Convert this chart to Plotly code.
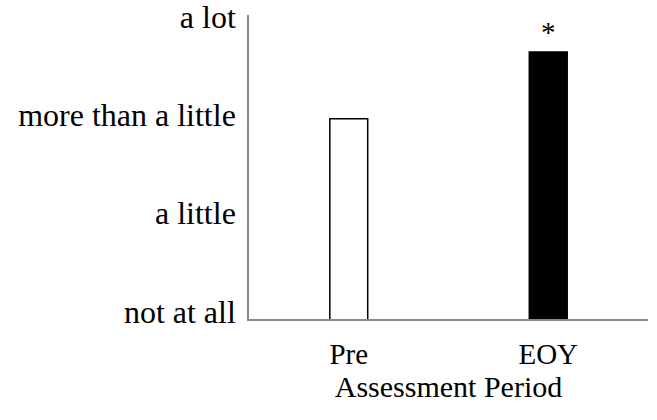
import plotly.graph_objects as go

categories = ["Pre", "EOY"]
values = [2.96, 3.64]
bar_fills = ["white", "black"]
tick_values = [1, 2, 3, 4]
tick_labels = ["not at all", "a little", "more than a little", "a lot"]
significance = ["", "*"]
x_title = "Assessment Period"

FONT = "Liberation Serif, Times New Roman, serif"

fig = go.Figure()
fig.add_trace(go.Bar(
    x=categories, y=values, width=0.19,
    marker=dict(color=bar_fills, line=dict(color="black", width=1.5)),
    hoverinfo="skip",
))

for c, v, s in zip(categories, values, significance):
    if s:
        fig.add_annotation(x=c, y=v, text=s, showarrow=False, yanchor="bottom",
                           yshift=2, font=dict(family=FONT, size=29, color="black"))

fig.update_layout(
    width=657, height=420,
    margin=dict(l=249, r=9, t=15, b=101),
    paper_bgcolor="white", plot_bgcolor="white",
    showlegend=False,
    font=dict(family=FONT, color="black"),
    xaxis=dict(
        range=[-0.5, 1.5], showline=True, linecolor="#8a8a8a", linewidth=1.5,
        showgrid=False, zeroline=False, ticks="", automargin=False,
        tickfont=dict(family=FONT, size=29, color="black"),
        ticklabelstandoff=8,
        title=dict(text=x_title, font=dict(family=FONT, size=30, color="black"), standoff=4),
    ),
    yaxis=dict(
        range=[0.924, 4.016], showline=True, linecolor="#8a8a8a", linewidth=1.5,
        showgrid=False, zeroline=False, ticks="", automargin=False,
        tickvals=tick_values, ticktext=tick_labels,
        tickfont=dict(family=FONT, size=32, color="black"),
        ticklabelstandoff=5, ticklabeloverflow="allow",
    ),
)

fig.write_html("out.html", config={"displayModeBar": False},
               post_script="document.body.style.margin='0';")
